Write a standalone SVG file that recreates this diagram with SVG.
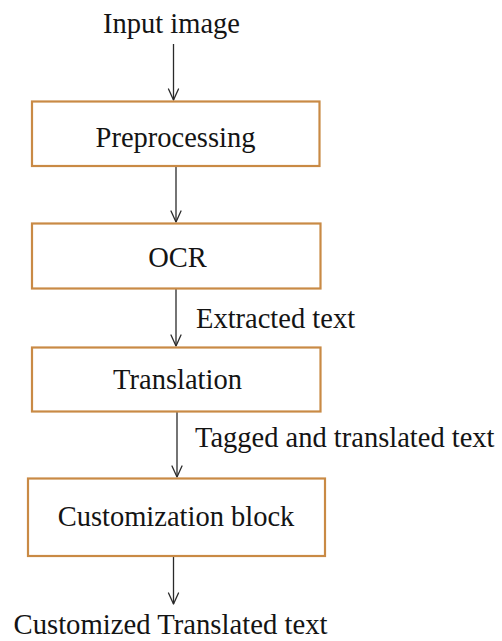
<svg xmlns="http://www.w3.org/2000/svg" width="502" height="641" viewBox="0 0 502 641">
<style>
.box{fill:#fff;stroke:#c98a45;stroke-width:2.2}
.t{font-family:"Liberation Serif","Times New Roman",serif;font-size:28.5px;fill:#141414}
.c{text-anchor:middle}
.ln{stroke:#2a2a2a;stroke-width:1.3;fill:none}
.ah{stroke:#2a2a2a;stroke-width:1.3;fill:none;stroke-linecap:round;stroke-linejoin:round}
</style>
<rect width="502" height="641" fill="#fff"/>
<g id="connectors">
<line class="ln" x1="173.5" y1="44" x2="173.5" y2="100"/>
<polyline class="ah" points="168.5,89 173.5,100 178.5,89"/>
<line class="ln" x1="176" y1="166" x2="176" y2="222"/>
<polyline class="ah" points="171,211 176,222 181,211"/>
<line class="ln" x1="176" y1="289" x2="176" y2="346"/>
<polyline class="ah" points="171,335 176,346 181,335"/>
<line class="ln" x1="177" y1="412" x2="177" y2="477"/>
<polyline class="ah" points="172,466 177,477 182,466"/>
<line class="ln" x1="173.5" y1="557" x2="173.5" y2="604"/>
<polyline class="ah" points="168.5,593 173.5,604 178.5,593"/>
</g>
<g id="input"><text class="t c" x="171.5" y="33">Input image</text></g>
<g id="preprocessing">
<rect class="box" x="32" y="101.5" width="287.5" height="64.5"/>
<text class="t c" x="175.5" y="146.5">Preprocessing</text>
</g>
<g id="ocr">
<rect class="box" x="32" y="223.5" width="288.5" height="65"/>
<text class="t c" x="177.5" y="266.5">OCR</text>
</g>
<g id="label-extracted"><text class="t" x="196" y="328">Extracted text</text></g>
<g id="translation">
<rect class="box" x="32" y="347.5" width="288.5" height="64"/>
<text class="t c" x="177.5" y="389">Translation</text>
</g>
<g id="label-tagged"><text class="t" x="195" y="446.5">Tagged and translated text</text></g>
<g id="customization">
<rect class="box" x="28" y="478.5" width="297" height="77.5"/>
<text class="t c" x="176" y="525.5">Customization block</text>
</g>
<g id="output"><text class="t c" x="170.5" y="634" textLength="314" lengthAdjust="spacingAndGlyphs">Customized Translated text</text></g>
</svg>
